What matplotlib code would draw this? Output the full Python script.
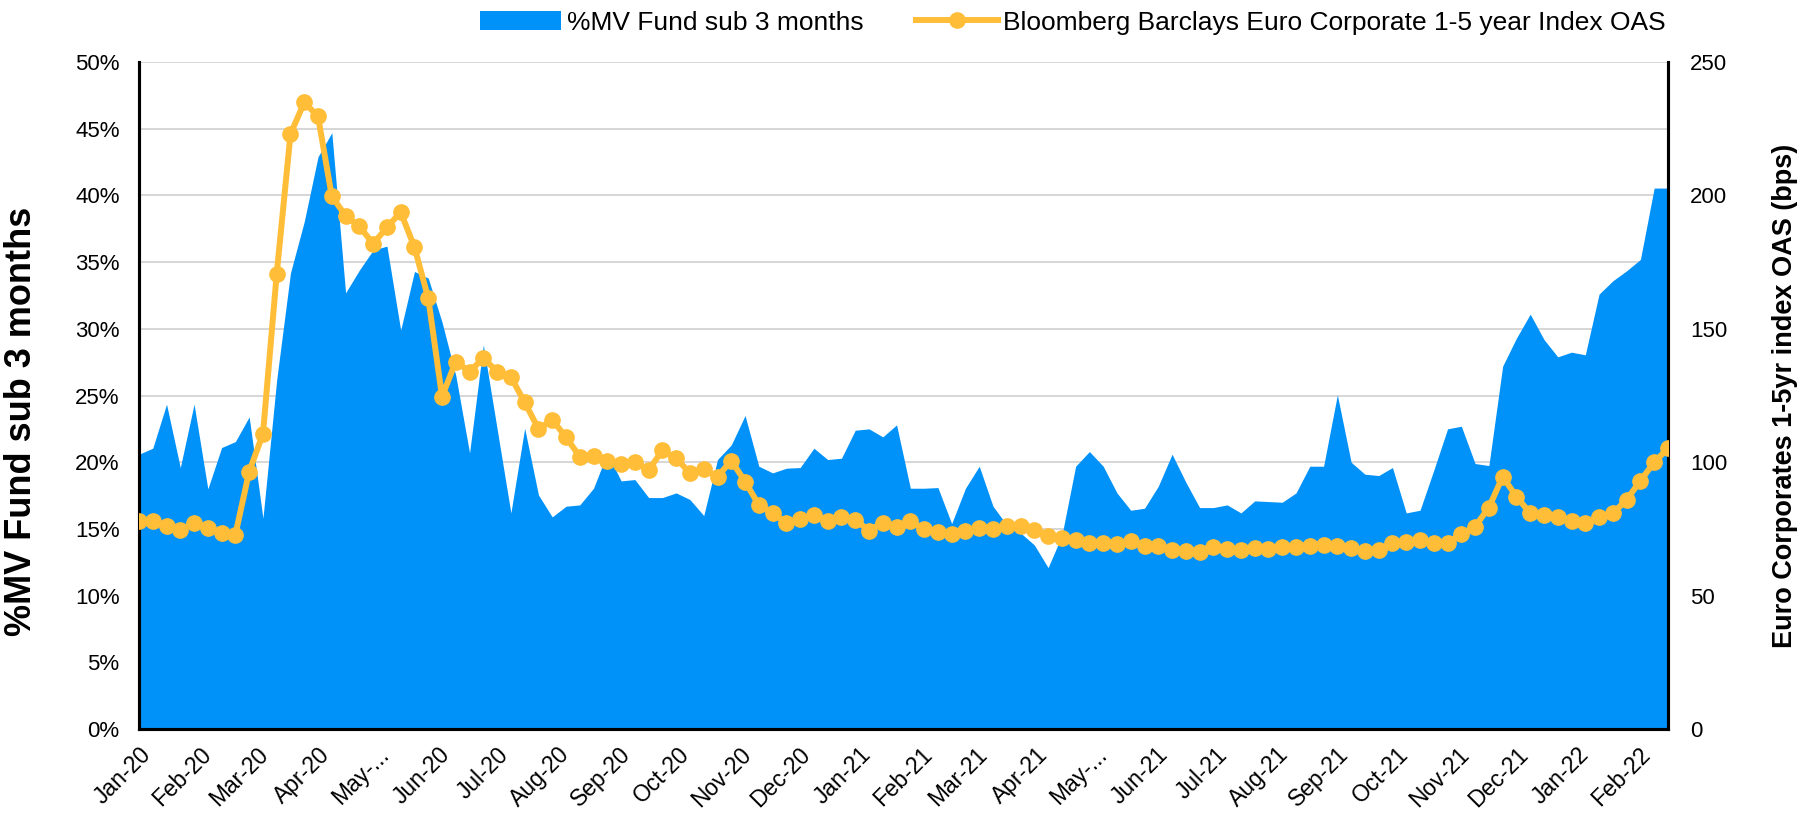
import matplotlib
matplotlib.use('Agg')
import matplotlib.pyplot as plt
from matplotlib.patches import Patch
from matplotlib.lines import Line2D
from matplotlib.transforms import ScaledTranslation
import pandas as pd

plt.rcParams['font.family'] = ['Liberation Sans', 'DejaVu Sans']

# weekly observations
dates = pd.date_range('2020-01-03', periods=112, freq='7D')

# %MV of fund maturing within 3 months
mv_sub3m = [20.6, 21.05, 24.35, 19.6, 24.35, 18.0, 21.1, 21.55, 23.4, 15.8,
            26.2, 34.2, 38.05, 42.9, 44.7, 32.7, 34.4, 35.9, 36.2, 29.9,
            34.3, 33.8, 30.5, 26.5, 20.7, 28.8, 22.5, 16.2, 22.55, 17.55,
            15.9, 16.7, 16.8, 18.05, 20.7, 18.6, 18.7, 17.35, 17.35, 17.7,
            17.2, 16.0, 20.2, 21.3, 23.5, 19.7, 19.2, 19.55, 19.6, 21.05,
            20.2, 20.3, 22.4, 22.5, 21.9, 22.8, 18.05, 18.05, 18.1, 15.4,
            18.05, 19.7, 16.7, 15.3, 14.7, 13.8, 12.1, 14.5, 19.7, 20.8,
            19.7, 17.7, 16.4, 16.55, 18.2, 20.6, 18.5, 16.6, 16.6, 16.8,
            16.2, 17.1, 17.05, 17.0, 17.7, 19.7, 19.7, 25.05, 20.0, 19.1,
            19.0, 19.6, 16.2, 16.4, 19.4, 22.5, 22.7, 19.9, 19.75, 27.2,
            29.3, 31.1, 29.2, 27.9, 28.25, 28.05, 32.6, 33.6, 34.35, 35.2,
            40.55, 40.55]

# Bloomberg Barclays Euro Corporate 1-5y OAS (bps)
oas_bps = [78, 78, 76.1, 74.6, 77.1, 75.25, 73.6, 72.9, 96.5, 110.6,
           170.6, 223, 234.9, 229.6, 199.6, 192.4, 188.4, 181.9, 188, 193.75,
           180.6, 161.5, 124.6, 137.75, 134, 139, 134, 131.9, 122.5, 112.5,
           115.9, 109.4, 102.1, 102.5, 100.5, 99.4, 100.25, 97.1, 104.4, 101.5,
           95.9, 97.4, 94.6, 100.6, 92.75, 84, 81.1, 77.1, 78.6, 80.25,
           78.1, 79.4, 78.4, 74.4, 77.4, 75.6, 78, 74.9, 74, 73,
           74.4, 75.25, 74.9, 76.25, 76.25, 74.6, 72.4, 71.5, 70.9, 69.9,
           69.6, 69.4, 70.5, 68.75, 68.6, 67.1, 66.9, 66.5, 68.1, 67.5,
           67.1, 68, 67.5, 68.1, 68.1, 68.75, 68.9, 68.75, 68, 66.9,
           67.1, 69.6, 70.25, 70.9, 69.6, 69.9, 73, 75.9, 83, 94.6,
           87.1, 80.9, 80.25, 79.4, 78.1, 77.4, 79.6, 80.9, 85.9, 93.1,
           99.9, 105.25]

month_labels = ['Jan-20', 'Feb-20', 'Mar-20', 'Apr-20', 'May-...', 'Jun-20',
                'Jul-20', 'Aug-20', 'Sep-20', 'Oct-20', 'Nov-20', 'Dec-20',
                'Jan-21', 'Feb-21', 'Mar-21', 'Apr-21', 'May-...', 'Jun-21',
                'Jul-21', 'Aug-21', 'Sep-21', 'Oct-21', 'Nov-21', 'Dec-21',
                'Jan-22', 'Feb-22']

blue = '#0091F9'
orange = '#FFBD38'

fig = plt.figure(figsize=(18.12, 8.15), dpi=100)
ax = fig.add_axes([0.0767, 0.1055, 0.8438, 0.8184])
ax2 = ax.twinx()

ax.fill_between(dates, 0, mv_sub3m, color=blue, linewidth=0, zorder=2)
ax2.plot(dates, oas_bps, '-o', color=orange, lw=4.3, ms=11, zorder=3)

ax.set_xlim(dates[0], dates[-1])
ax.set_ylim(0, 50)
ax2.set_ylim(0, 250)
ax.set_yticks(range(0, 51, 5))
ax.set_yticklabels([f'{v}%' for v in range(0, 51, 5)])
ax2.set_yticks(range(0, 251, 50))

tick_dates = [dates[0] + pd.DateOffset(months=k) for k in range(len(month_labels))]
ax.set_xticks(tick_dates)
ax.set_xticklabels(month_labels, rotation=45, ha='right', rotation_mode='anchor')
shift = ScaledTranslation(-16 / 100, 0, fig.dpi_scale_trans)
for lab in ax.get_xticklabels():
    lab.set_transform(lab.get_transform() + shift)

ax.grid(axis='y', color='#D3D3D3', lw=1.3, zorder=0)
ax.set_axisbelow(True)

for a in (ax, ax2):
    a.tick_params(length=0, labelsize=16)
    a.spines['top'].set_visible(False)
    for s in ('left', 'right', 'bottom'):
        a.spines[s].set_linewidth(2.2)
        a.spines[s].set_color('black')
ax.tick_params(axis='y', pad=14)
ax2.tick_params(axis='y', pad=16)
ax.tick_params(axis='x', pad=10, labelsize=16.5)

# axis titles placed in figure coords
fig.text(0.0116, 0.4834, '%MV Fund sub 3 months', rotation=90, ha='center',
         va='center', fontsize=26, fontweight='bold')
fig.text(0.985, 0.514, 'Euro Corporates 1-5yr index OAS (bps)', rotation=90,
         ha='center', va='center', fontsize=19.5, fontweight='bold')

handles = [Patch(facecolor=blue, edgecolor='none'),
           Line2D([], [], color=orange, lw=4.3, marker='o', ms=11)]
fig.legend(handles, ['%MV Fund sub 3 months',
                     'Bloomberg Barclays Euro Corporate 1-5 year Index OAS'],
           loc='upper center', bbox_to_anchor=(0.592, 1.016), ncol=2,
           frameon=False, fontsize=19, handlelength=3.1, columnspacing=2.0,
           handletextpad=0.2)

fig.savefig('out.png', dpi=100)
